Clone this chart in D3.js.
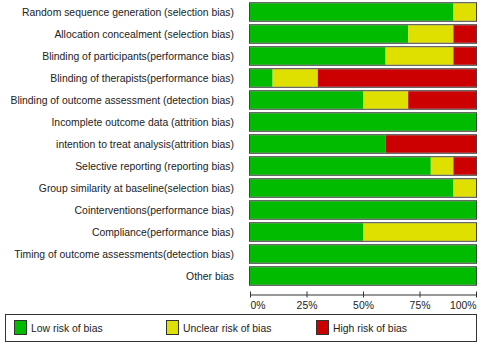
<!DOCTYPE html>
<html>
<head>
<meta charset="utf-8">
<script src="https://cdn.jsdelivr.net/npm/d3@7"></script>
<style>
  body { margin: 0; background: #fff; }
  svg { display: block; font-family: "Liberation Sans", Arial, sans-serif; }
</style>
</head>
<body>
<div id="chart"></div>
<script>
// Risk of bias domains (top to bottom)
const domains = [
  'Random sequence generation (selection bias)',
  'Allocation concealment (selection bias)',
  'Blinding of participants(performance bias)',
  'Blinding of therapists(performance bias)',
  'Blinding of outcome assessment (detection bias)',
  'Incomplete outcome data (attrition bias)',
  'intention to treat analysis(attrition bias)',
  'Selective reporting (reporting bias)',
  'Group similarity at baseline(selection bias)',
  'Cointerventions(performance bias)',
  'Compliance(performance bias)',
  'Timing of outcome assessments(detection bias)',
  'Other bias'
];

// percentages per domain
const lowRisk     = [90, 70, 60, 10, 50, 100, 60, 80, 90, 100, 50, 100, 100];
const unclearRisk = [10, 20, 30, 20, 20,   0,  0, 10, 10,   0, 50,   0,   0];
const highRisk    = [ 0, 10, 10, 70, 30,   0, 40, 10,  0,   0,  0,   0,   0];

const categories = ['Low risk of bias', 'Unclear risk of bias', 'High risk of bias'];
const colors = ['#00bb00', '#e0e000', '#cc0000'];
const ticks = [0, 25, 50, 75, 100];

const width = 481;
const height = 348;

const svg = d3.select('#chart')
  .append('svg')
  .attr('width', width)
  .attr('height', height);

const x = d3.scaleLinear()
  .domain([0, 100])
  .range([250, 476]);

const y = d3.scaleBand()
  .domain(domains)
  .range([1, 287])
  .paddingInner(0.2)
  .paddingOuter(0.1);

// build stacked rows
const rows = domains.map((d, i) => ({
  domain: d,
  low: lowRisk[i],
  unclear: unclearRisk[i],
  high: highRisk[i]
}));
const stack = d3.stack().keys(['low', 'unclear', 'high']);
const series = stack(rows);

svg.append('g')
  .selectAll('g')
  .data(series)
  .enter()
  .append('g')
  .attr('fill', (d, i) => colors[i])
  .selectAll('rect')
  .data((d) => d.filter((v) => v[1] > v[0]))
  .enter()
  .append('rect')
  .attr('x', (d) => x(d[0]))
  .attr('y', (d) => y(d.data.domain))
  .attr('width', (d) => x(d[1]) - x(d[0]))
  .attr('height', y.bandwidth());

// bar outlines
svg.append('g')
  .selectAll('rect')
  .data(domains)
  .enter()
  .append('rect')
  .attr('x', x(0) - 0.5)
  .attr('y', (d) => y(d) - 0.5)
  .attr('width', x(100) - x(0) + 1)
  .attr('height', y.bandwidth() + 1)
  .attr('fill', 'none')
  .attr('stroke', '#444')
  .attr('stroke-width', 1);

// row labels
svg.append('g')
  .selectAll('text')
  .data(domains)
  .enter()
  .append('text')
  .attr('x', 234)
  .attr('y', (d) => y(d) + y.bandwidth() / 2)
  .attr('dy', '0.35em')
  .attr('text-anchor', 'end')
  .attr('fill', '#222')
  .style('font-size', '10.4px')
  .text((d) => d);

// x axis
const axis = svg.append('g')
  .attr('transform', 'translate(0,294.5)')
  .call(d3.axisBottom(x).tickValues(ticks).tickFormat((d) => d + '%').tickSizeInner(3).tickSizeOuter(0));
axis.select('.domain').attr('stroke', '#333');
axis.selectAll('.tick line').attr('y1', -3).attr('y2', 3).attr('stroke', '#333');
axis.selectAll('.tick text')
  .attr('y', 7)
  .attr('fill', '#222')
  .attr('text-anchor', (d) => (d === 0 ? 'start' : d === 100 ? 'end' : 'middle'))
  .style('font-size', '10.4px')
  .style('font-family', '"Liberation Sans", Arial, sans-serif');

// legend
const legend = svg.append('g');
legend.append('rect')
  .attr('x', 5.5)
  .attr('y', 314.5)
  .attr('width', 471)
  .attr('height', 27)
  .attr('fill', '#fff')
  .attr('stroke', '#333');

const legendX = [14, 166, 316];
categories.forEach((c, i) => {
  legend.append('rect')
    .attr('x', legendX[i] + 0.5)
    .attr('y', 320.5)
    .attr('width', 12)
    .attr('height', 14)
    .attr('fill', colors[i])
    .attr('stroke', '#333');
  legend.append('text')
    .attr('x', legendX[i] + 17)
    .attr('y', 328)
    .attr('dy', '0.35em')
    .attr('fill', '#222')
    .style('font-size', '10.4px')
    .text(c);
});
</script>
</body>
</html>
